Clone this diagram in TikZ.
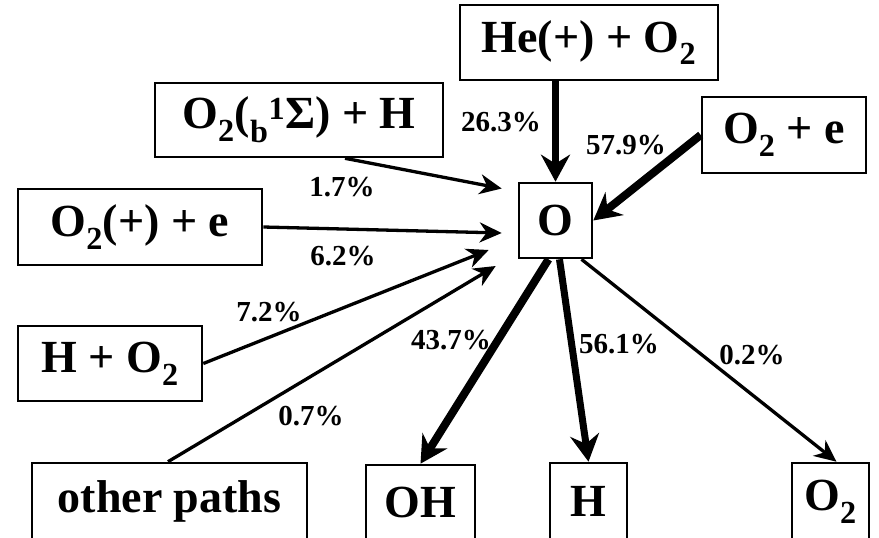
\documentclass[tikz,border=0pt]{standalone}
\usepackage{fontspec}
\setmainfont{Liberation Serif}
\usepackage{tikz}
\usetikzlibrary{arrows.meta, calc}

\tikzset{
  species/.style={draw, line width=2.6pt, inner sep=0pt, font=\fontsize{46}{50}\selectfont\bfseries},
  rate/.style={inner sep=0pt, font=\fontsize{29}{32}\selectfont\bfseries},
  minor/.style={line width=3.3pt, -{Stealth[length=22pt, width=20pt, inset=7pt]}},
  major/.style={line width=7pt, -{Stealth[length=27pt, width=29pt, inset=9pt]}},
}

\begin{document}
\begin{tikzpicture}[x=1pt, y=-1pt]
\useasboundingbox (0,0) rectangle (879,538);
\node[species, minimum width=258, minimum height=75] (heo) at (589,42.5) {He(+) + O\textsubscript{2}};
\node[species, minimum width=288, minimum height=74] (o2b) at (299,120) {O\textsubscript{2}(\textsubscript{b}\textsuperscript{1}Σ) + H\hspace{22pt}};
\node[species, minimum width=164, minimum height=76] (o2e) at (784,135) {O\textsubscript{2} + e};
\node[species, minimum width=73, minimum height=75] (o) at (555.5,220.5) {O};
\node[species, minimum width=244, minimum height=76] (o2p) at (140,227) {O\textsubscript{2}(+) + e\hspace{18pt}};
\node[species, minimum width=184, minimum height=75] (ho2) at (110,363.5) {H + O\textsubscript{2}};
\node[species, minimum width=275, minimum height=77] (other) at (169.5,501.5) {other paths\hspace{14pt}};
\node[species, minimum width=109, minimum height=75] (oh) at (420.5,502.5) {OH};
\node[species, minimum width=77, minimum height=77] (h) at (588.5,501.5) {H};
\node[species, minimum width=77, minimum height=77] (o2) at (830.5,501.5) {O\textsubscript{2}};

\draw[major] (o.north |- heo.south) -- (o.north);
\draw[major, line width=8pt] (o2e.west) -- (o.east);
\draw[minor] ($(o2b.south)+(46,0)$) -- ($(o.west)+(-16,-32)$);
\draw[minor] (o2p.east) -- ($(o.west)+(-16,12.5)$);
\draw[minor] (ho2.east) -- ($(o.west)+(-29,29.5)$);
\draw[minor] ($(other.north)+(-1.5,0)$) -- ($(o.west)+(-22,45.5)$);
\draw[major, line width=8pt] ($(o.south)+(-7,0)$) -- (oh.north);
\draw[major] ($(o.south)+(4,0)$) -- (h.north);
\draw[minor] ($(o.south)+(26,0)$) -- ($(o2.north)+(6,0)$);

\node[rate] (r-heo) at (501,122) {26.3\%};
\node[rate] (r-o2e) at (626,145) {57.9\%};
\node[rate] (r-o2b) at (342,187) {1.7\%};
\node[rate] (r-o2p) at (343,256) {6.2\%};
\node[rate] (r-ho2) at (269,312) {7.2\%};
\node[rate] (r-other) at (311,416) {0.7\%};
\node[rate] (r-oh) at (451,340) {43.7\%};
\node[rate] (r-h) at (619,344) {56.1\%};
\node[rate] (r-o2) at (752,355) {0.2\%};
\end{tikzpicture}
\end{document}
